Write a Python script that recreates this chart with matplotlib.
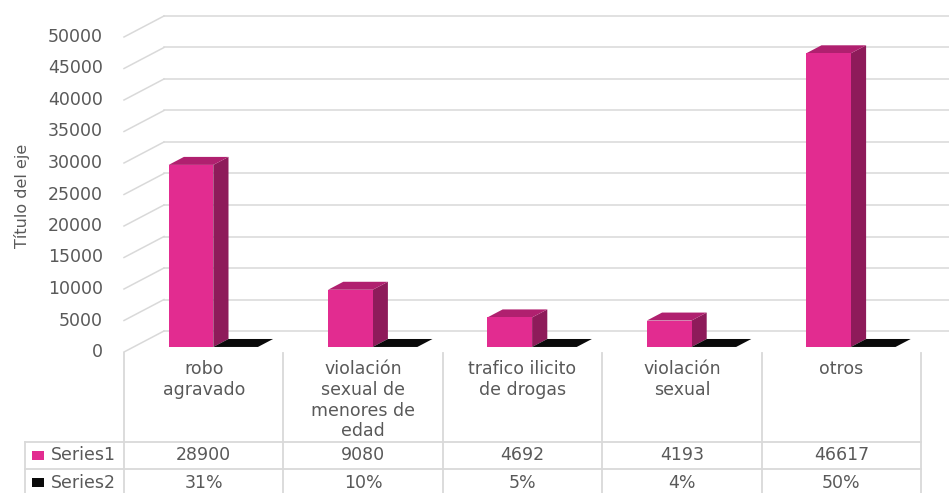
"""3D-style clustered columns with an Excel-like data table underneath."""

import matplotlib.pyplot as plt
from matplotlib.patches import Polygon, Rectangle
from matplotlib.transforms import blended_transform_factory

categories = [
    "robo\nagravado",
    "violación\nsexual de\nmenores de\nedad",
    "trafico ilicito\nde drogas",
    "violación\nsexual",
    "otros",
]
series1 = [28900, 9080, 4692, 4193, 46617]
series2 = [0.31, 0.10, 0.05, 0.04, 0.50]
series_names = ["Series1", "Series2"]
yticks = list(range(0, 50001, 5000))
y_title = "Título del eje"

W, H = 949, 493
TEXT = "#595959"
GRID = "#D9D9D9"
FRONT = ["#E22C90", "#0A0A0A"]
SIDE = ["#8E1B5A", "#050505"]
TOP = ["#B0206F", "#0A0A0A"]

plt.rcParams["font.family"] = ["DejaVu Sans"]

fig = plt.figure(figsize=(W / 100, H / 100), dpi=100)
# front plane: categories span px 124..921, value 0 at px 352, 50000 at px 37
ax = fig.add_axes([124 / W, (H - 352) / H, 797 / W, 315 / H])
ax.set_xlim(-0.5, len(categories) - 0.5)
ax.set_ylim(0, 50000)
ax.axis("off")

px_x = (len(categories)) / 797.0
px_y = 50000 / 315.0
DX, DY = 40 * px_x, 21 * px_y  # depth of the chart box
F0, F1 = 0.24, 0.62  # depth of bar front/back faces

# side wall + back wall gridlines
for v in yticks:
    ax.plot([-0.5, -0.5 + DX], [v, v + DY], color=GRID, lw=1.1,
            clip_on=False, zorder=1)
    ax.plot([-0.5 + DX, len(categories) - 0.5 + DX + 1], [v + DY, v + DY],
            color=GRID, lw=1.1, clip_on=False, zorder=1)

bw = 0.28
for i in range(len(categories)):
    for s, vals in enumerate([series1, series2]):
        h = vals[i]
        x0 = i - bw + s * bw
        x1 = x0 + bw
        ax0, ay0 = F0 * DX, F0 * DY
        ax1, ay1 = F1 * DX, F1 * DY
        side = [(x1 + ax0, ay0), (x1 + ax1, ay1), (x1 + ax1, h + ay1), (x1 + ax0, h + ay0)]
        top = [(x0 + ax0, h + ay0), (x1 + ax0, h + ay0), (x1 + ax1, h + ay1), (x0 + ax1, h + ay1)]
        front = [(x0 + ax0, ay0), (x1 + ax0, ay0), (x1 + ax0, h + ay0), (x0 + ax0, h + ay0)]
        z = 3 + i
        ax.add_patch(Polygon(side, closed=True, fc=SIDE[s], ec="none", zorder=z, clip_on=False))
        ax.add_patch(Polygon(top, closed=True, fc=TOP[s], ec="none", zorder=z, clip_on=False))
        ax.add_patch(Polygon(front, closed=True, fc=FRONT[s], ec="none", zorder=z, clip_on=False))

# value axis labels
for v in yticks:
    ax.text(-0.5 - 21 * px_x, v, str(v), ha="right", va="center",
            fontsize=12.5, color=TEXT, clip_on=False)

fig.text(22 / W, 1 - 196 / H, y_title, rotation=90, ha="center", va="center",
         fontsize=11.5, color=TEXT)

# data table
tr = blended_transform_factory(ax.transData, fig.transFigure)
fy = lambda p: 1 - p / H
n = len(categories)
for k in range(n + 1):
    ax.plot([k - 0.5, k - 0.5], [fy(353), fy(493)], color=GRID, lw=1.3,
            transform=tr, clip_on=False)
for yy in (442, 469):
    fig.add_artist(plt.Line2D([25 / W, 921 / W], [fy(yy), fy(yy)], color=GRID, lw=1.3))
fig.add_artist(plt.Line2D([25 / W, 25 / W], [fy(442), fy(493)], color=GRID, lw=1.3))

for i, cat in enumerate(categories):
    ax.text(i, fy(360), cat, ha="center", va="top", fontsize=12.5, color=TEXT,
            linespacing=1.2, transform=tr)
    ax.text(i, fy(455.5), str(series1[i]), ha="center", va="center",
            fontsize=12.5, color=TEXT, transform=tr)
    ax.text(i, fy(482.5), f"{series2[i]:.0%}", ha="center", va="center",
            fontsize=12.5, color=TEXT, transform=tr)

for s, (name, yy) in enumerate(zip(series_names, (455.5, 482.5))):
    fig.add_artist(Rectangle((32 / W, fy(yy + 4.5)), 12 / W, 9 / H,
                             fc=FRONT[s], ec="none"))
    fig.text(51 / W, fy(yy), name, ha="left", va="center", fontsize=12.5, color=TEXT)

fig.savefig("out.png", dpi=100, facecolor="white")
